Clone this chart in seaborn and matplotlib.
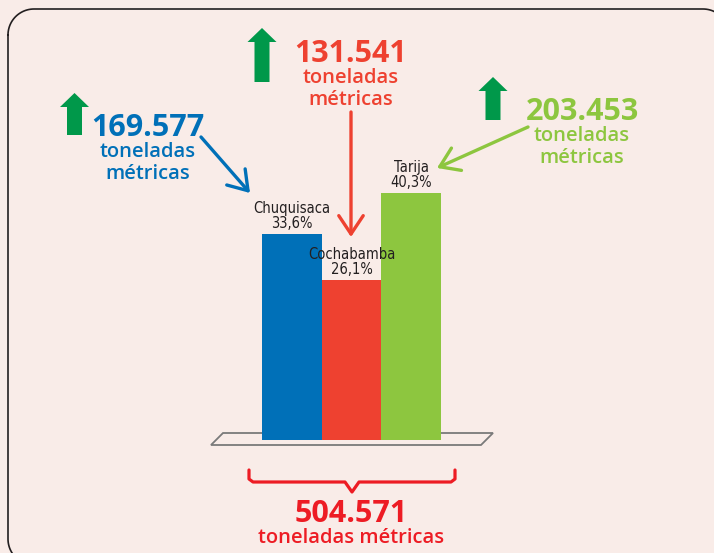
import matplotlib
matplotlib.use("Agg")
import numpy as np
import matplotlib.pyplot as plt
import seaborn as sns
from matplotlib.patches import Polygon, FancyArrow

# Datos: producción por departamento (toneladas métricas)
departamentos = ["Chuquisaca", "Cochabamba", "Tarija"]
toneladas = [169577, 131541, 203453]
colores = ["#0070B8", "#EE4130", "#8DC63F"]

total = sum(toneladas)

def miles(v):
    # 169577 -> "169.577"
    return f"{v:,}".replace(",", ".")

def porcentaje(v):
    # 0.336 -> "33,6%"
    return f"{v / total * 100:.1f}".replace(".", ",") + "%"

FONDO = "#F9ECE8"
VERDE_OSCURO = "#00984A"
FUENTE = ["Open Sans", "DejaVu Sans"]

sns.set_theme(style="white")
plt.rcParams["font.family"] = FUENTE

W, H = 714, 553
fig = plt.figure(figsize=(W / 100, H / 100), dpi=100, facecolor=FONDO)

# Capa de decoración en coordenadas de píxel
deco = fig.add_axes([0, 0, 1, 1])
deco.set_xlim(0, W)
deco.set_ylim(H, 0)
deco.axis("off")
deco.patch.set_alpha(0)

# Marco redondeado (se sale por la derecha y por abajo)
r = 26
x0, y0, x1, y1 = 8, 9, 729, 565
esquinas = [(x0 + r, y0 + r, np.pi), (x1 - r, y0 + r, 1.5 * np.pi),
            (x1 - r, y1 - r, 0), (x0 + r, y1 - r, 0.5 * np.pi)]
bx, by = [], []
for cx, cy, a in esquinas:
    t = np.linspace(a, a + np.pi / 2, 25)
    bx += list(cx + r * np.cos(t))
    by += list(cy + r * np.sin(t))
bx.append(bx[0])
by.append(by[0])
deco.plot(bx, by, color="#231F20", lw=1.2)

# Base en perspectiva
deco.add_patch(Polygon([(211, 445), (223, 433), (493, 433), (481, 445)], closed=True,
                       fc="none", ec="#7A7A7A", lw=1.3))

# Barras con seaborn en su propio eje
y_base, y_top = 440, 190
ax = fig.add_axes([262 / W, (H - y_base) / H, (441 - 262) / W, (y_base - y_top) / H])
sns.barplot(x=departamentos, y=toneladas, hue=departamentos, palette=colores,
            width=1, saturation=1, legend=False, linewidth=0, edgecolor="none", ax=ax)
ax.set_xlim(-0.5, 2.5)
ax.set_ylim(0, 206000)
ax.axis("off")
ax.patch.set_alpha(0)

# Etiquetas sobre cada barra
for i, (d, v) in enumerate(zip(departamentos, toneladas)):
    ax.annotate(f"{d}\n{porcentaje(v)}", xy=(i, v), xytext=(0, 2.5), textcoords="offset points",
                ha="center", va="bottom", fontsize=10.5, linespacing=0.95,
                family="DejaVu Sans", fontstretch="condensed", color="#231F20",
                annotation_clip=False)

# Llamadas con cifras: centro del texto, línea base de la cifra, flecha verde, flecha de color
llamada_x = [148, 351, 582]
llamada_y = [136, 62, 120]
flecha_verde = [(74.5, 135, 93), (262, 82, 28), (493, 120, 77)]
flecha_color = [((201, 137), (250, 193)), ((351, 112), (351, 237)), ((528, 127), (437, 168))]

for v, c, x, y, fv, fc in zip(toneladas, colores, llamada_x, llamada_y, flecha_verde, flecha_color):
    deco.text(x, y, miles(v), ha="center", va="baseline", fontsize=22, fontweight="bold", color=c)
    deco.text(x, y + 21, "toneladas", ha="center", va="baseline", fontsize=14.5,
              fontweight="semibold", color=c)
    deco.text(x, y + 43, "métricas", ha="center", va="baseline", fontsize=14.5,
              fontweight="semibold", color=c)
    fx, fy0, fy1 = fv
    deco.add_patch(FancyArrow(fx, fy0, 0, fy1 - fy0, width=15, head_width=29, head_length=14,
                              length_includes_head=True, fc=VERDE_OSCURO, ec="none"))
    deco.annotate("", xy=fc[1], xytext=fc[0],
                  arrowprops=dict(arrowstyle="->,head_length=0.6,head_width=0.4", lw=2.4,
                                  color=c, mutation_scale=22, shrinkA=0, shrinkB=0))

# Llave inferior y total
ROJO = "#ED1C24"
deco.plot([249, 249, 253, 345, 352, 359, 451, 455, 455],
          [470, 479, 482, 482, 492, 482, 482, 479, 470],
          color=ROJO, lw=2.3, solid_joinstyle="round", solid_capstyle="round")
deco.text(351, 522, miles(total), ha="center", va="baseline", fontsize=22,
          fontweight="bold", color=ROJO)
deco.text(351, 543, "toneladas métricas", ha="center", va="baseline", fontsize=14.5,
          fontweight="semibold", color=ROJO)

fig.savefig("out.png", dpi=100, facecolor=FONDO)
